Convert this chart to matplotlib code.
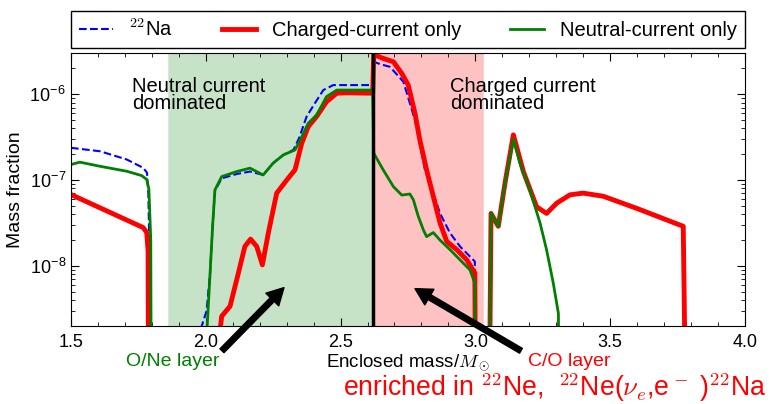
import matplotlib
matplotlib.use("Agg")
import matplotlib.pyplot as plt
from matplotlib.ticker import MultipleLocator, LogLocator, NullFormatter

plt.rcParams["font.family"] = ["Liberation Sans", "DejaVu Sans"]
plt.rcParams["mathtext.fontset"] = "cm"

# enclosed mass (Msun) and mass fractions
na22_m = [1.50, 1.608, 1.707, 1.768, 1.782, 1.787, 1.792, 1.800,
          1.985, 2.003, 2.016, 2.026, 2.034, 2.059, 2.115, 2.164, 2.213, 2.250, 2.288,
          2.325, 2.346, 2.374, 2.405, 2.436, 2.473, 2.619,
          2.624, 2.646, 2.683, 2.733, 2.776, 2.813, 2.831, 2.869, 2.906, 2.943, 2.980, 2.998, 3.002,
          3.045, 3.058, 3.085, 3.110, 3.141, 3.178, 3.227, 3.264, 3.302, 3.351, 3.400,
          3.474, 3.598, 3.771, 3.790]
na22_x = [2.38e-7, 2.17e-7, 1.74e-7, 1.39e-7, 1.22e-7, 7e-8, 1e-8, 1e-12,
          2.0e-9, 3.0e-9, 8.3e-9, 3.16e-8, 7.5e-8, 1.05e-7, 1.18e-7, 1.26e-7, 1.15e-7, 1.58e-7, 1.97e-7,
          2.25e-7, 3.08e-7, 5.5e-7, 7.9e-7, 1.12e-6, 1.28e-6, 1.28e-6,
          2.39e-6, 2.25e-6, 2.09e-6, 1.4e-6, 5.0e-7, 1.32e-7, 9.3e-8, 4.1e-8, 2.42e-8, 1.69e-8, 1.29e-8, 1.13e-8, 1e-12,
          1e-12, 4.1e-8, 2.9e-8, 9.3e-8, 3.3e-7, 1.26e-7, 4.9e-8, 4.1e-8, 5.4e-8, 6.75e-8, 7.06e-8,
          6.5e-8, 4.7e-8, 2.9e-8, 1e-12]

cc_m = [1.50, 1.768, 1.781, 1.786, 1.790,
        2.044, 2.059, 2.090, 2.121, 2.145, 2.166, 2.189, 2.210, 2.232, 2.263, 2.300, 2.331,
        2.356, 2.380, 2.411, 2.448, 2.486, 2.522, 2.619,
        2.623, 2.658, 2.696, 2.727, 2.751, 2.776, 2.794, 2.819, 2.844, 2.869, 2.894, 2.931,
        2.968, 2.998, 3.005,
        3.045, 3.058, 3.085, 3.110, 3.141, 3.178, 3.227, 3.264, 3.302, 3.351, 3.400, 3.474,
        3.598, 3.771, 3.790]
cc_x = [6.8e-8, 2.8e-8, 2.45e-8, 1.5e-8, 1e-12,
        1e-9, 2.6e-9, 3.4e-9, 8.3e-9, 1.69e-8, 2.06e-8, 1.69e-8, 1.03e-8, 2.42e-8, 7.06e-8, 1.0e-7, 1.32e-7,
        2.69e-7, 4.2e-7, 5.5e-7, 8.2e-7, 1.03e-6, 1.04e-6, 1.03e-6,
        2.9e-6, 2.62e-6, 2.39e-6, 1.75e-6, 1.28e-6, 6.0e-7, 2.94e-7, 1.32e-7, 6.45e-8, 3.16e-8, 1.93e-8, 1.55e-8,
        1.18e-8, 8.3e-9, 1e-12,
        1e-12, 4.1e-8, 2.9e-8, 9.3e-8, 3.37e-7, 1.26e-7, 4.9e-8, 4.1e-8, 5.4e-8, 6.75e-8, 7.06e-8, 6.5e-8,
        4.7e-8, 2.9e-8, 1e-12]

nc_m = [1.50, 1.533, 1.608, 1.707, 1.762, 1.781, 1.789, 1.796, 1.800,
        2.000, 2.016, 2.026, 2.034, 2.059, 2.115, 2.164, 2.213, 2.250, 2.288, 2.331,
        2.356, 2.380, 2.411, 2.448, 2.486, 2.619,
        2.623, 2.658, 2.696, 2.727, 2.757, 2.770, 2.788, 2.807, 2.819, 2.844, 2.869,
        2.906, 2.943, 2.980, 2.998, 3.005,
        3.045, 3.058, 3.085, 3.110, 3.141, 3.165, 3.202, 3.240, 3.264, 3.289, 3.308, 3.316]
nc_x = [1.52e-7, 1.62e-7, 1.45e-7, 1.27e-7, 1.13e-7, 1.02e-7, 7.8e-8, 2e-8, 1e-12,
        1e-9, 8.3e-9, 3.16e-8, 7.7e-8, 1.10e-7, 1.26e-7, 1.38e-7, 1.15e-7, 1.58e-7, 1.97e-7, 2.25e-7,
        3.2e-7, 4.6e-7, 5.7e-7, 9.4e-7, 1.12e-6, 1.12e-6,
        2.06e-7, 1.32e-7, 8.4e-8, 6.7e-8, 6.9e-8, 5.9e-8, 3.8e-8, 2.64e-8, 2.2e-8, 2.45e-8, 2.0e-8,
        1.55e-8, 1.18e-8, 9.0e-9, 6.3e-9, 1e-12,
        1e-12, 4.1e-8, 2.9e-8, 9.3e-8, 3.0e-7, 1.58e-7, 7.7e-8, 3.16e-8, 1.55e-8, 6.3e-9, 2.8e-9, 1e-12]

nc_region = (1.861, 2.621)
cc_region = (2.621, 3.029)
layer_boundary = 2.621

fig = plt.figure(figsize=(7.74, 4.04), dpi=100)
ax = fig.add_axes([0.0917, 0.193, 0.8708, 0.675])

ax.axvspan(*nc_region, facecolor="g", alpha=0.22, edgecolor="0.75", lw=1)
ax.axvspan(*cc_region, facecolor="r", alpha=0.24, edgecolor="0.75", lw=1)

ax.plot(na22_m, na22_x, "--", color="b", lw=1.5, label=r"$^{22}$Na")
ax.plot(cc_m, cc_x, "-", color="r", lw=3.5, label="Charged-current only")
ax.plot(nc_m, nc_x, "-", color="g", lw=2, label="Neutral-current only")
ax.axvline(layer_boundary, color="k", lw=2.5)

ax.set_yscale("log")
ax.set_xlim(1.5, 4.0)
ax.set_ylim(2.0e-9, 3.0e-6)
ax.xaxis.set_major_locator(MultipleLocator(0.5))
ax.xaxis.set_minor_locator(MultipleLocator(0.1))
ax.set_yticks([1e-8, 1e-7, 1e-6])
ax.set_yticklabels([r"10$^{\mathregular{-8}}$", r"10$^{\mathregular{-7}}$", r"10$^{\mathregular{-6}}$"])
ax.yaxis.set_minor_locator(LogLocator(base=10, subs=range(2, 10)))
ax.yaxis.set_minor_formatter(NullFormatter())
ax.tick_params(which="both", direction="in", top=True, right=True, labelsize=13)
ax.tick_params(which="major", length=6)
ax.tick_params(which="minor", length=3)
ax.tick_params(axis="x", pad=6)

ax.set_xlabel(r"Enclosed mass/$M_\odot$", fontsize=13.5, labelpad=1)
ax.set_ylabel("Mass fraction", fontsize=14)

ax.text(0.090, 0.915, "Neutral current\ndominated", transform=ax.transAxes,
        fontsize=14.5, va="top", ha="left", linespacing=0.9)
ax.text(0.562, 0.915, "Charged current\ndominated", transform=ax.transAxes,
        fontsize=14.5, va="top", ha="left", linespacing=0.9)

arrow = dict(facecolor="k", edgecolor="k", width=4, headwidth=13, headlength=12, shrink=0)
ax.annotate("", xy=(2.290, 5.6e-9), xytext=(2.060, 1.03e-9), arrowprops=arrow,
            annotation_clip=False)
ax.annotate("", xy=(2.776, 5.45e-9), xytext=(3.169, 1.03e-9), arrowprops=arrow,
            annotation_clip=False)

fig.text(0.2235, 0.106, "O/Ne layer", color="g", fontsize=14, ha="center", va="center")
fig.text(0.735, 0.104, "C/O layer", color="r", fontsize=14, ha="center", va="center")
fig.text(0.443, 0.040, r"enriched in $^{22}$Ne,  $^{22}$Ne($\nu_e$,e$^-$ )$^{22}$Na",
         color="r", fontsize=19.2, ha="left", va="center")

ax.legend(loc="lower left", bbox_to_anchor=(0, 1.018, 1, 0.15), mode="expand", ncol=3,
          fontsize=14.5, handlelength=1.7, borderaxespad=0, fancybox=False,
          edgecolor="k", framealpha=1)

fig.savefig("out.png", dpi=100)
